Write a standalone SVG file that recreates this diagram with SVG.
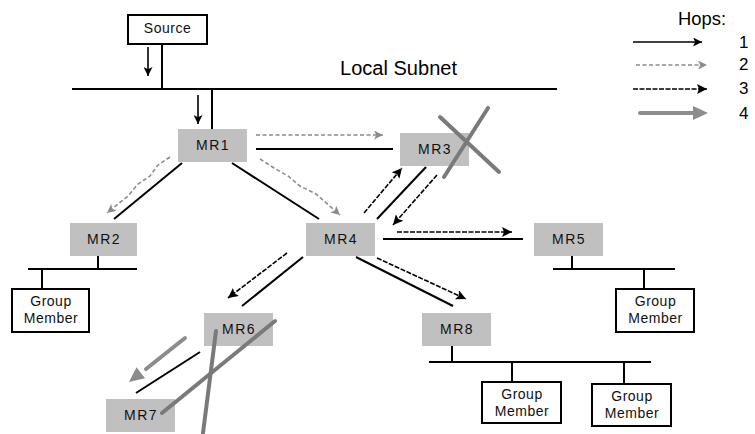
<svg xmlns="http://www.w3.org/2000/svg" width="755" height="434" viewBox="0 0 755 434">
  <style>
    .box { fill: #ffffff; stroke: #000000; stroke-width: 2; }
    .mr { fill: #c0c0c0; stroke: none; }
    .lbl { font-family: "Liberation Sans", Arial, sans-serif; font-size: 14px; fill: #111111; text-anchor: middle; }
    .mrt { letter-spacing: 1.5px; }
    .gmt { letter-spacing: 0.5px; }
    .big { font-family: "Liberation Sans", Arial, sans-serif; fill: #000000; }
    .wire { stroke: #000000; stroke-width: 2; fill: none; }
    .hop1 { stroke: #000000; stroke-width: 1.6; fill: none; marker-end: url(#headBlack); }
    .hop2 { stroke: #8c8c8c; stroke-width: 1.6; fill: none; stroke-dasharray: 4 2.5; marker-end: url(#headGrey); }
    .hop3 { stroke: #000000; stroke-width: 1.6; fill: none; stroke-dasharray: 5 1.5; marker-end: url(#headBlack3); }
    .hop4 { stroke: #8c8c8c; stroke-width: 4; fill: none; stroke-linecap: round; }
    .cross { stroke: #7a7a7a; stroke-width: 4; stroke-linecap: round; fill: none; }
  </style>
  <defs>
    <marker id="headBlack" viewBox="0 0 10 10" refX="10" refY="5" markerUnits="userSpaceOnUse" markerWidth="10" markerHeight="9" orient="auto">
      <path d="M0,0 L10,5 L0,10 L2.5,5 z" fill="#000000"/>
    </marker>
    <marker id="headBlack3" viewBox="0 0 10 10" refX="10" refY="5" markerUnits="userSpaceOnUse" markerWidth="11" markerHeight="10" orient="auto">
      <path d="M0,0 L10,5 L0,10 L2,5 z" fill="#000000"/>
    </marker>
    <marker id="headGrey" viewBox="0 0 10 10" refX="10" refY="5" markerUnits="userSpaceOnUse" markerWidth="9" markerHeight="9" orient="auto">
      <path d="M0,0 L10,5 L0,10 L2.5,5 z" fill="#8c8c8c"/>
    </marker>
  </defs>

  <rect width="755" height="434" fill="#ffffff"/>

  <!-- connectors -->
  <g id="connectors">
    <!-- wiring and links -->
    <line class="wire" x1="162" y1="44" x2="162" y2="89"/>
    <line class="wire" x1="72" y1="89" x2="557" y2="89"/>
    <line class="wire" x1="212" y1="89" x2="212" y2="129"/>
    <line class="wire" x1="182" y1="163" x2="114" y2="219"/>
    <line class="wire" x1="256" y1="149" x2="393" y2="149"/>
    <line class="wire" x1="232" y1="163" x2="319" y2="219"/>
    <line class="wire" x1="377" y1="219" x2="426" y2="167"/>
    <line class="wire" x1="383" y1="239" x2="523" y2="239"/>
    <line class="wire" x1="303" y1="257" x2="242" y2="306"/>
    <line class="wire" x1="356" y1="257" x2="453" y2="306"/>
    <line class="wire" x1="200" y1="352" x2="136" y2="393"/>

    <!-- subnet buses -->
    <line class="wire" x1="98" y1="256" x2="98" y2="269"/>
    <line class="wire" x1="28" y1="269" x2="137" y2="269"/>
    <line class="wire" x1="42" y1="269" x2="42" y2="289"/>
    <line class="wire" x1="572" y1="256" x2="572" y2="269"/>
    <line class="wire" x1="553" y1="269" x2="675" y2="269"/>
    <line class="wire" x1="644" y1="269" x2="644" y2="289"/>
    <line class="wire" x1="452" y1="346" x2="452" y2="362"/>
    <line class="wire" x1="429" y1="362" x2="651" y2="362"/>
    <line class="wire" x1="512" y1="362" x2="512" y2="382"/>
    <line class="wire" x1="624" y1="362" x2="624" y2="384"/>

    <!-- hop 1 -->
    <line class="hop1" x1="148" y1="47" x2="148" y2="76"/>
    <line class="hop1" x1="198" y1="95" x2="198" y2="124"/>
    <!-- hop 2 -->
    <line class="hop2" x1="256" y1="135" x2="383" y2="135"/>
    <path class="hop2" d="M170,157 L158,165 L150,176 L138,184 L128,196 L107,213"/>
    <path class="hop2" d="M260,159 L274,168 L288,176 L300,186 L316,194 L340,215"/>
    <!-- hop 3 -->
    <line class="hop3" x1="364" y1="213" x2="402" y2="168"/>
    <line class="hop3" x1="437" y1="175" x2="393" y2="225"/>
    <line class="hop3" x1="397" y1="232" x2="512" y2="232"/>
    <line class="hop3" x1="377" y1="258" x2="466" y2="299"/>
    <line class="hop3" x1="287" y1="253" x2="228" y2="298"/>
    <!-- hop 4 -->
    <line class="hop4" x1="185" y1="338" x2="146" y2="369"/>
    <polygon points="129,382 145.1,378.2 136.5,367.2" fill="#8c8c8c"/>
  </g>

  <!-- nodes -->
  <g id="source">
    <rect class="box" x="128" y="15" width="79" height="29"/>
    <text class="lbl gmt" x="167.5" y="33">Source</text>
  </g>

  <g id="subnet-label">
    <text class="big" x="340" y="75" font-size="20" textLength="117" lengthAdjust="spacingAndGlyphs">Local Subnet</text>
  </g>

  <g id="mr1">
    <rect class="mr" x="178" y="129" width="69" height="33"/>
    <text class="lbl mrt" x="213" y="150">MR1</text>
  </g>
  <g id="mr2">
    <rect class="mr" x="70" y="223" width="67" height="33"/>
    <text class="lbl mrt" x="104" y="244">MR2</text>
  </g>
  <g id="mr3">
    <rect class="mr" x="400" y="133" width="69" height="33"/>
    <text class="lbl mrt" x="435" y="154">MR3</text>
  </g>
  <g id="mr4">
    <rect class="mr" x="306" y="223" width="69" height="33"/>
    <text class="lbl mrt" x="341" y="244">MR4</text>
  </g>
  <g id="mr5">
    <rect class="mr" x="534" y="223" width="69" height="33"/>
    <text class="lbl mrt" x="569" y="244">MR5</text>
  </g>
  <g id="mr6">
    <rect class="mr" x="204" y="313" width="69" height="33"/>
    <text class="lbl mrt" x="239" y="334">MR6</text>
  </g>
  <g id="mr7">
    <rect class="mr" x="106" y="399" width="69" height="33"/>
    <text class="lbl mrt" x="141" y="420">MR7</text>
  </g>
  <g id="mr8">
    <rect class="mr" x="422" y="313" width="69" height="33"/>
    <text class="lbl mrt" x="457" y="334">MR8</text>
  </g>

  <g id="member-mr2">
    <rect class="box" x="12" y="289" width="77" height="43"/>
    <text class="lbl gmt" x="51" y="306">Group</text>
    <text class="lbl gmt" x="51" y="323">Member</text>
  </g>
  <g id="member-mr5">
    <rect class="box" x="616" y="289" width="78" height="43"/>
    <text class="lbl gmt" x="655.5" y="306">Group</text>
    <text class="lbl gmt" x="655.5" y="323">Member</text>
  </g>
  <g id="member-mr8a">
    <rect class="box" x="482" y="382" width="79" height="41"/>
    <text class="lbl gmt" x="522" y="399">Group</text>
    <text class="lbl gmt" x="522" y="416">Member</text>
  </g>
  <g id="member-mr8b">
    <rect class="box" x="592" y="384" width="79" height="42"/>
    <text class="lbl gmt" x="632" y="401">Group</text>
    <text class="lbl gmt" x="632" y="418">Member</text>
  </g>

  <!-- failed routers -->
  <g id="failures">
    <line class="cross" x1="488" y1="108" x2="444" y2="177"/>
    <line class="cross" x1="440" y1="117" x2="499" y2="172"/>
    <line class="cross" x1="275" y1="321" x2="162" y2="413"/>
    <line class="cross" x1="216" y1="331" x2="203" y2="433"/>
  </g>

  <!-- legend -->
  <g id="legend">
    <text class="big" x="678" y="25" font-size="18" textLength="48" lengthAdjust="spacingAndGlyphs">Hops:</text>
    <line class="hop1" x1="633" y1="42" x2="702" y2="42"/>
    <line class="hop2" x1="636" y1="65" x2="707" y2="65"/>
    <line class="hop3" x1="633" y1="89" x2="707" y2="89"/>
    <line class="hop4" x1="640" y1="113" x2="693" y2="113"/>
    <polygon points="708,113 693,106 693,120" fill="#8c8c8c"/>
    <text class="big" x="739" y="48" font-size="17">1</text>
    <text class="big" x="739" y="70" font-size="17">2</text>
    <text class="big" x="739" y="94" font-size="17">3</text>
    <text class="big" x="739" y="119" font-size="17">4</text>
  </g>
</svg>
